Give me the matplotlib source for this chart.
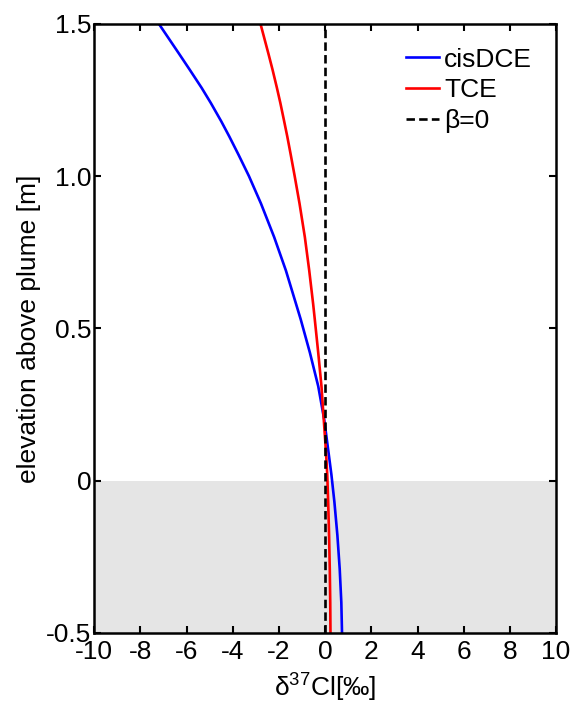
import matplotlib
matplotlib.use("Agg")
import matplotlib.pyplot as plt

# =========================
# Data
# =========================
elevation = [-0.50, -0.40, -0.29, -0.18, -0.07, 0.02, 0.09, 0.20, 0.31, 0.42,
             0.53, 0.58, 0.69, 0.80, 0.91, 1.00, 1.07, 1.13, 1.18, 1.24,
             1.29, 1.35, 1.40, 1.50]

d37cl_cisdce = [0.73, 0.70, 0.63, 0.53, 0.40, 0.27, 0.15, -0.04, -0.30, -0.66,
                -1.06, -1.26, -1.70, -2.21, -2.78, -3.30, -3.75, -4.15, -4.50, -4.95,
                -5.35, -5.87, -6.31, -7.20]

d37cl_tce = [0.23, 0.22, 0.20, 0.17, 0.13, 0.09, 0.04, -0.06, -0.16, -0.30,
             -0.45, -0.52, -0.69, -0.88, -1.11, -1.32, -1.49, -1.64, -1.775, -1.94,
             -2.09, -2.28, -2.45, -2.80]

beta0_x = [0.0, 0.0]
beta0_y = [-0.5, 1.5]

plume_band = [-0.5, 0.0]

xticks = [-10, -8, -6, -4, -2, 0, 2, 4, 6, 8, 10]
yticks = [-0.5, 0.0, 0.5, 1.0, 1.5]
ytick_labels = ["-0.5", "0", "0.5", "1.0", "1.5"]

# =========================
# Style
# =========================
plt.rcParams["font.family"] = ["Liberation Sans", "DejaVu Sans"]
plt.rcParams["mathtext.fontset"] = "custom"
plt.rcParams["mathtext.rm"] = "Liberation Sans"
plt.rcParams["mathtext.it"] = "Liberation Sans:italic"
plt.rcParams["axes.unicode_minus"] = False
plt.rcParams["font.size"] = 19

fig = plt.figure(figsize=(5.75, 7.04), dpi=100)
ax = fig.add_axes([0.164, 0.101, 0.803, 0.865])

# shaded plume region
ax.axhspan(plume_band[0], plume_band[1], color="#e5e5e5", zorder=0, lw=0)

ax.plot(d37cl_cisdce, elevation, color="#0000ff", lw=1.9, label="cisDCE")
ax.plot(d37cl_tce, elevation, color="#ff0000", lw=1.9, label="TCE")
ax.plot(beta0_x, beta0_y, color="black", lw=1.9, ls=(0, (3.2, 1.6)), label="β=0")

ax.set_xlim(-10, 10)
ax.set_ylim(-0.5, 1.5)
ax.set_xticks(xticks)
ax.set_yticks(yticks)
ax.set_yticklabels(ytick_labels)

ax.tick_params(axis="x", pad=5)
ax.tick_params(axis="y", pad=2)
ax.tick_params(direction="in", top=True, right=True, length=5, width=1.5)
for sp in ax.spines.values():
    sp.set_linewidth(1.8)

ax.set_xlabel("δ$^{37}$Cl[‰]", labelpad=6)
ax.set_ylabel("elevation above plume [m]", labelpad=4)

ax.legend(loc="upper right", frameon=False, handlelength=1.25,
          handletextpad=0.2, labelspacing=0.25, borderaxespad=0.5,
          fontsize=19)

fig.savefig("out.png", dpi=100)
